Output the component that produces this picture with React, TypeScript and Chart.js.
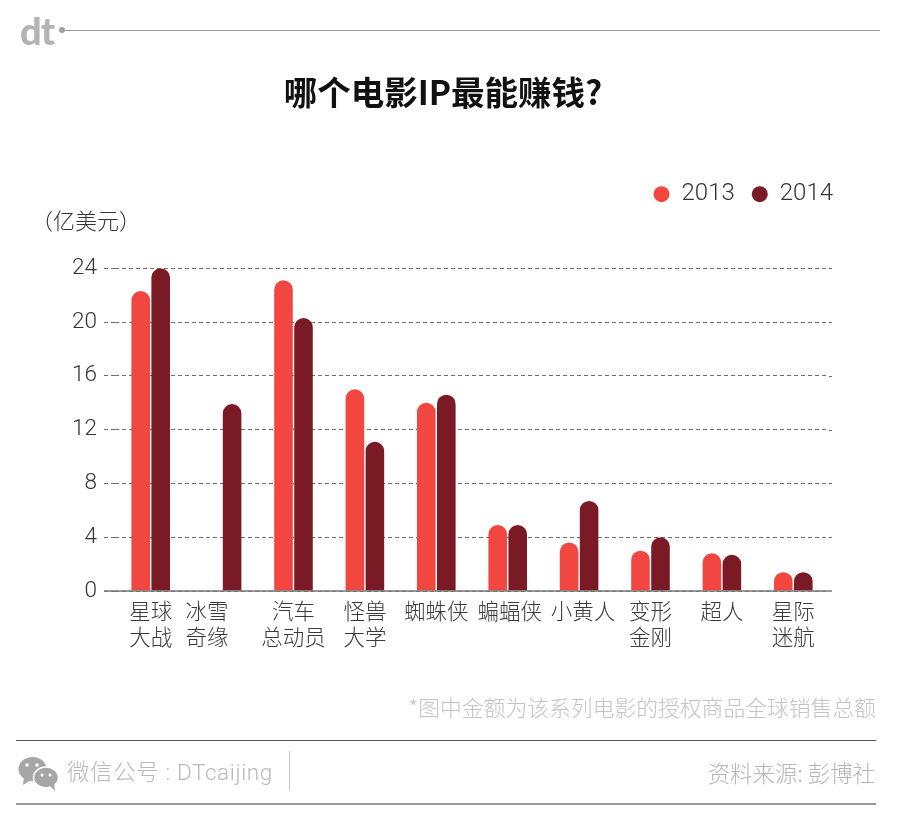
import React, { useEffect, useRef } from "react";
import { Chart, registerables } from "chart.js";

Chart.register(...registerables);

const categories: string[][] = [
  ["星球", "大战"],
  ["冰雪", "奇缘"],
  ["汽车", "总动员"],
  ["怪兽", "大学"],
  ["蜘蛛侠"],
  ["蝙蝠侠"],
  ["小黄人"],
  ["变形", "金刚"],
  ["超人"],
  ["星际", "迷航"],
];
const values2013: (number | null)[] = [22.3, null, 23.1, 15, 14, 4.9, 3.6, 3.0, 2.8, 1.4];
const values2014: number[] = [24, 13.9, 20.3, 11.1, 14.6, 4.9, 6.7, 4.0, 2.7, 1.4];
const yTicks: number[] = [0, 4, 8, 12, 16, 20, 24];
const labelNudge: number[] = [0, -15, 0, 0, 0, 2, 4, 0, 0, 0];

const RED = "#f24641";
const DARK = "#7a1a25";
const CJK = '"Noto Sans CJK SC", "Noto Sans", sans-serif';
const LATIN = 'Roboto, "Noto Sans CJK SC", sans-serif';

const overlay: any = {
  id: "overlay",
  beforeInit(chart: any) {
    const legend = chart.legend;
    const fit = legend.fit;
    legend.fit = function () {
      fit.call(this);
      this.height += 52;
    };
    const draw = legend.draw;
    legend.draw = function () {
      const c = chart.ctx;
      c.save();
      c.translate(21, 0);
      draw.call(this);
      c.restore();
    };
  },
  afterDraw(chart: any) {
    const { ctx, chartArea: a, scales } = chart;
    ctx.save();
    ctx.strokeStyle = "#6f6f6f";
    ctx.lineWidth = 1;
    ctx.setLineDash([4, 3]);
    yTicks.slice(1).forEach((v) => {
      const y = Math.round(scales.y.getPixelForValue(v)) + 0.5;
      ctx.beginPath();
      ctx.moveTo(a.right, y);
      ctx.lineTo(a.right + 3, y);
      ctx.stroke();
    });
    ctx.setLineDash([]);
    ctx.strokeStyle = "#777";
    ctx.lineWidth = 1.5;
    const y0 = scales.y.getPixelForValue(0);
    ctx.beginPath();
    ctx.moveTo(a.left - 11, y0);
    ctx.lineTo(a.right + 3, y0);
    ctx.stroke();
    ctx.fillStyle = "#3a3a3a";
    ctx.font = `300 21.5px ${CJK}`;
    ctx.textAlign = "center";
    ctx.textBaseline = "middle";
    categories.forEach((lines, i) => {
      const x = scales.x.getPixelForValue(i) + labelNudge[i];
      lines.forEach((t, j) => ctx.fillText(t, x, y0 + 20 + j * 26));
    });
    ctx.restore();
  },
};

function Abs({ style, children }: { style: React.CSSProperties; children?: React.ReactNode }) {
  return <div style={{ position: "absolute", whiteSpace: "nowrap", ...style }}>{children}</div>;
}

export default function App() {
  const ref = useRef<HTMLCanvasElement>(null);
  useEffect(() => {
    const chart = new Chart(ref.current!, {
      type: "bar",
      data: {
        labels: categories.map((c) => c.join("")),
        datasets: [
          { label: "2013", data: values2013, backgroundColor: RED },
          { label: "2014", data: values2014, backgroundColor: DARK },
        ],
      },
      options: {
        responsive: false,
        animation: false,
        devicePixelRatio: 1,
        layout: { padding: { left: 57, right: 71, top: 68, bottom: 214 } },
        datasets: {
          bar: {
            categoryPercentage: 0.56,
            barPercentage: 0.93,
            borderRadius: { topLeft: 9.5, topRight: 9.5, bottomLeft: 0, bottomRight: 0 },
            borderSkipped: "bottom",
          },
        },
        plugins: {
          title: {
            display: true,
            text: "哪个电影IP最能赚钱?",
            color: "#111",
            font: { family: CJK, size: 33.5, weight: "bold" },
            padding: { top: 4, bottom: 53 },
          },
          legend: {
            position: "top",
            align: "end",
            labels: {
              usePointStyle: true,
              pointStyle: "circle",
              boxHeight: 11.3,
              pointStyleWidth: 16,
              padding: 17,
              color: "#333",
              font: { family: LATIN, size: 24, weight: "300" },
            },
          },
          tooltip: { enabled: false },
        },
        scales: {
          x: {
            grid: { display: false },
            border: { display: false },
            ticks: { display: false },
          },
          y: {
            min: 0,
            max: 24,
            afterFit(s: any) {
              s.width = 58;
            },
            afterBuildTicks(s: any) {
              s.ticks = yTicks.map((value) => ({ value }));
            },
            grid: { color: "#6f6f6f", tickColor: "#6f6f6f", tickLength: 11, tickBorderDash: [4, 3], lineWidth: 1 },
            border: { display: false, dash: [4, 3] },
            ticks: {
              color: "#333",
              padding: 7,
              font: { family: LATIN, size: 22.5, weight: "300" },
            },
          },
        },
      },
      plugins: [overlay],
    } as any);
    return () => chart.destroy();
  }, []);

  return (
    <div style={{ position: "absolute", left: 0, top: 0, width: 900, height: 813, background: "#fff", overflow: "hidden" }}>
      <canvas ref={ref} width={900} height={813} style={{ position: "absolute", left: 0, top: 0, display: "block" }} />
      <Abs style={{ left: 20, top: 7, fontFamily: "Lato, sans-serif", fontWeight: 900, fontSize: 38, lineHeight: "46px", letterSpacing: -1, color: "#b4b4b4" }}>dt</Abs>
      <Abs style={{ left: 59, top: 27, width: 6, height: 6, borderRadius: 3, background: "#a0a0a0" }} />
      <Abs style={{ left: 62, top: 30, width: 818, height: 1, background: "#999" }} />
      <Abs style={{ left: 31, top: 204, fontFamily: CJK, fontWeight: 300, fontSize: 22, lineHeight: "30px", color: "#333" }}>（亿美元）</Abs>
      <Abs style={{ right: 24, top: 692, fontFamily: CJK, fontWeight: 300, fontSize: 21.8, lineHeight: "30px", color: "#c4c4c4" }}>*图中金额为该系列电影的授权商品全球销售总额</Abs>
      <Abs style={{ left: 16, top: 740, width: 860, height: 1, background: "#555" }} />
      <Abs style={{ left: 16, top: 803, width: 860, height: 2, background: "#999" }} />
      <svg width="44" height="38" viewBox="0 0 44 38" style={{ position: "absolute", left: 17, top: 755 }}>
        <ellipse cx="15.5" cy="14" rx="14" ry="12" fill="#a6a6a6" />
        <path d="M7 22 L6 30 L14 25 Z" fill="#a6a6a6" />
        <ellipse cx="29" cy="22.5" rx="12.5" ry="10.5" fill="#a6a6a6" stroke="#fff" strokeWidth="1.5" />
        <path d="M33 31 L38 36 L37 28 Z" fill="#a6a6a6" />
        <circle cx="10" cy="10" r="1.8" fill="#fff" />
        <circle cx="20" cy="10" r="1.8" fill="#fff" />
        <circle cx="25" cy="20" r="1.5" fill="#fff" />
        <circle cx="33" cy="20" r="1.5" fill="#fff" />
      </svg>
      <Abs style={{ left: 67, top: 757, fontFamily: LATIN, fontWeight: 300, fontSize: 22.5, letterSpacing: 0.6, lineHeight: "30px", color: "#b9b9b9" }}>微信公号 : DTcaijing</Abs>
      <Abs style={{ left: 289, top: 751, width: 1, height: 39, background: "#c8c8c8" }} />
      <Abs style={{ right: 25, top: 757, fontFamily: CJK, fontWeight: 300, fontSize: 22.4, lineHeight: "30px", color: "#b5b5b5" }}>资料来源: 彭博社</Abs>
    </div>
  );
}
